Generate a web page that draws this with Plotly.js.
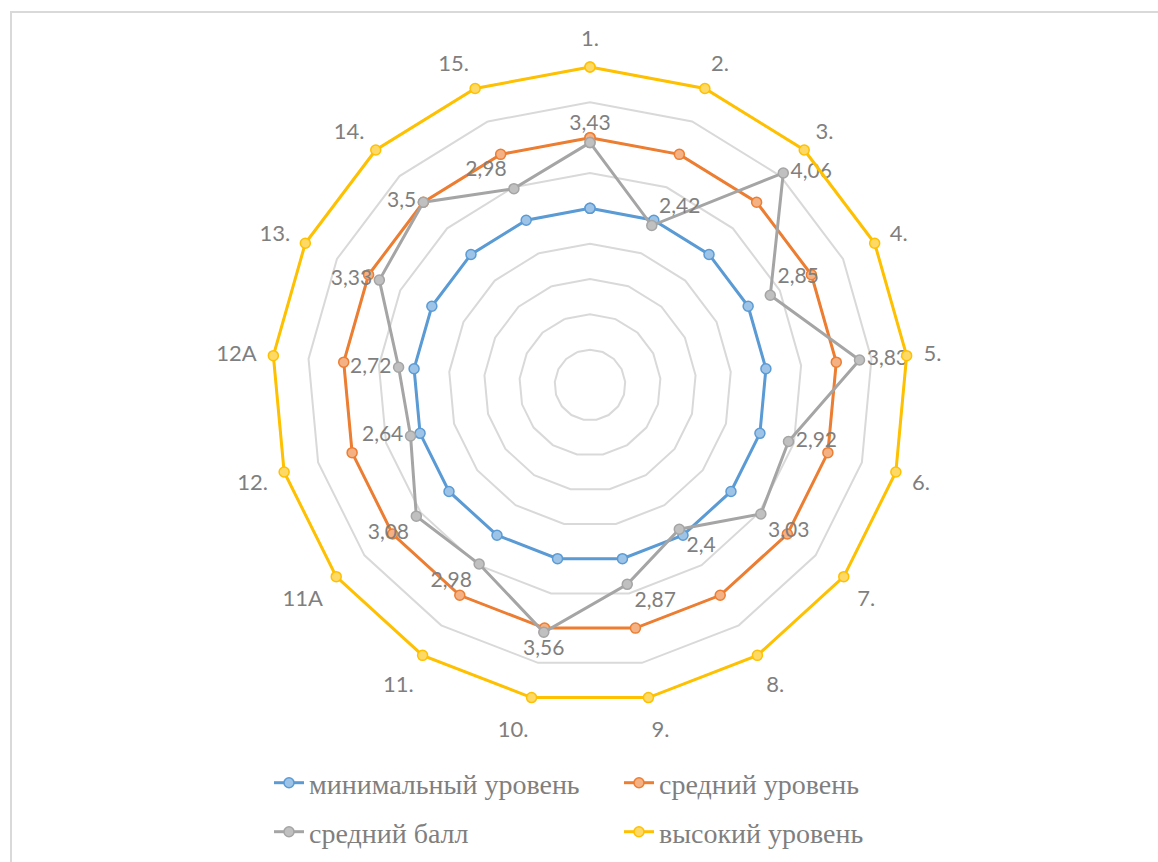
<!DOCTYPE html>
<html>
<head>
<meta charset="utf-8">
<script src="https://cdn.plot.ly/plotly-3.0.1.min.js"></script>
<style>html,body{margin:0;padding:0;background:#fff;}#chart{width:1158px;height:862px;}</style>
</head>
<body>
<div id="chart"></div>
<script>
const categories = ['1.','2.','3.','4.','5.','6.','7.','8.','9.','10.','11.','11A','12.','12A','13.','14.','15.'];
const minLevel = [2.5,2.5,2.5,2.5,2.5,2.5,2.5,2.5,2.5,2.5,2.5,2.5,2.5,2.5,2.5,2.5,2.5];
const midLevel = [3.5,3.5,3.5,3.5,3.5,3.5,3.5,3.5,3.5,3.5,3.5,3.5,3.5,3.5,3.5,3.5,3.5];
const avgScore = [3.43,2.42,4.06,2.85,3.83,2.92,3.03,2.4,2.87,3.56,2.98,3.08,2.64,2.72,3.33,3.5,2.98];
const highLevel = [4.5,4.5,4.5,4.5,4.5,4.5,4.5,4.5,4.5,4.5,4.5,4.5,4.5,4.5,4.5,4.5,4.5];
const seriesNames = ['минимальный уровень','средний уровень','средний балл','высокий уровень'];

const labelPos = ['top center','top right','middle right','top right','middle right','middle right','bottom right','bottom right','bottom right','bottom center','bottom left','bottom left','middle left','middle left','middle left','middle left','top left'];

function closeArr(a){ return a.concat([a[0]]); }
const theta = closeArr(categories);
function fmt(v){ return String(v).replace('.', ','); }

function mk(name, vals, color, fill, legend, withText){
  const t = {
    type:'scatterpolar', name:name, r:closeArr(vals), theta:theta,
    mode: withText ? 'lines+markers+text' : 'lines+markers',
    line:{color:color, width:3},
    marker:{size:10, color:fill, line:{color:color, width:1.5}},
    legend: legend,
    hoverinfo:'skip', cliponaxis:false
  };
  if (withText){
    t.text = vals.map(fmt).concat(['']);
    t.textposition = labelPos.concat(['top center']);
    t.textfont = {family:'Lato, Open Sans, sans-serif', size:21, color:'#7f7f7f'};
  }
  return t;
}

const data = [
  mk(seriesNames[0], minLevel, '#5B9BD5', '#9DC3E6', 'legend', false),
  mk(seriesNames[1], midLevel, '#ED7D31', '#F4B183', 'legend', false),
  mk(seriesNames[2], avgScore, '#A5A5A5', '#C0C0C0', 'legend2', true),
  mk(seriesNames[3], highLevel, '#FFC000', '#FFD966', 'legend2', false)
];

// radial range slightly beyond 4.5 so the outer series line is not clipped
const rMax = 4.57;
const R = 318 * rMax / 4.5;
const cx = 590, cy = 385;

const legendFont = {family:'Liberation Serif, Times New Roman, serif', size:28, color:'#7f7f7f'};
const layout = {
  width:1158, height:862,
  margin:{l:0,r:0,t:0,b:0},
  paper_bgcolor:'#ffffff',
  showlegend:true,
  polar:{
    domain:{x:[(cx-R)/1158, (cx+R)/1158], y:[1-(cy+R)/862, 1-(cy-R)/862]},
    gridshape:'linear',
    bgcolor:'rgba(0,0,0,0)',
    radialaxis:{range:[0,rMax], tick0:0, dtick:0.5, showticklabels:false, ticks:'', showline:false,
      gridcolor:'#D9D9D9', gridwidth:2, angle:90, layer:'below traces'},
    angularaxis:{type:'category', rotation:90, direction:'clockwise', showgrid:false,
      showline:false, layer:'below traces',
      ticks:'outside', ticklen:7, tickcolor:'rgba(0,0,0,0)',
      tickfont:{family:'Lato, Open Sans, sans-serif', size:22, color:'#7f7f7f'}}
  },
  legend:{orientation:'h', x:269/1158, xanchor:'left', y:1-783/862, yanchor:'middle',
    entrywidth:305, entrywidthmode:'pixels', font:legendFont, bgcolor:'rgba(0,0,0,0)'},
  legend2:{orientation:'h', x:269/1158, xanchor:'left', y:1-832/862, yanchor:'middle',
    entrywidth:305, entrywidthmode:'pixels', font:legendFont, bgcolor:'rgba(0,0,0,0)'},
  shapes:[{type:'rect', xref:'paper', yref:'paper', x0:11/1158, x1:1.05, y0:-0.05, y1:1-12/862,
    line:{color:'#D9D9D9', width:2}}]
};

Plotly.newPlot('chart', data, layout, {displayModeBar:false, staticPlot:true});
</script>
</body>
</html>
